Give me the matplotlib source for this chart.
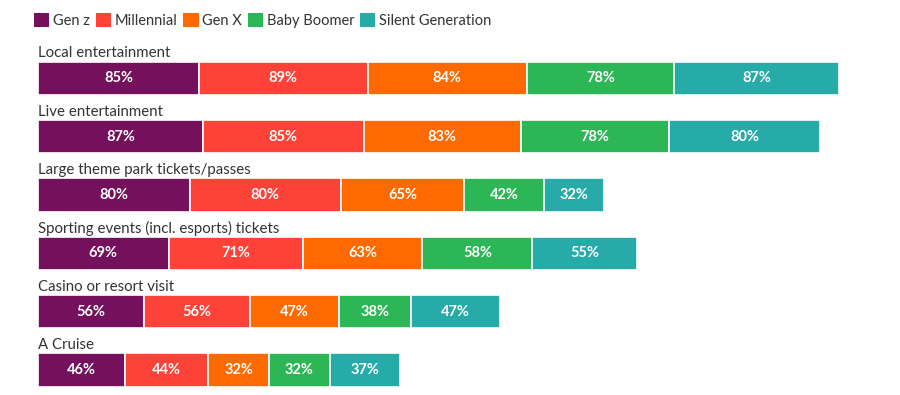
import numpy as np
import matplotlib.pyplot as plt
from matplotlib.patches import Patch

plt.rcParams['font.family'] = ['Lato', 'DejaVu Sans']

categories = ['Local entertainment', 'Live entertainment', 'Large theme park tickets/passes',
              'Sporting events (incl. esports) tickets', 'Casino or resort visit', 'A Cruise']
generations = ['Gen z', 'Millennial', 'Gen X', 'Baby Boomer', 'Silent Generation']
colors = ['#74105C', '#FF4238', '#FF6A00', '#2DB655', '#27ABA9']

gen_z = [85, 87, 80, 69, 56, 46]
millennial = [89, 85, 80, 71, 56, 44]
gen_x = [84, 83, 65, 63, 47, 32]
boomer = [78, 78, 42, 58, 38, 32]
silent = [87, 80, 32, 55, 47, 37]
series = [gen_z, millennial, gen_x, boomer, silent]

fig = plt.figure(figsize=(9, 3.95), dpi=100)
ax = fig.add_axes([0, 0, 1, 1])
scale = 1.894  # px per percentage point
ax.set_xlim(-38 / scale, (900 - 38) / scale)
ax.set_ylim(5.43, -1.346)
ax.axis('off')

y = np.arange(len(categories))
left = np.zeros(len(categories))
for vals, col in zip(series, colors):
    vals = np.array(vals)
    ax.barh(y, vals, left=left, height=0.57, color=col, edgecolor='white', linewidth=1.2)
    for yi, l, v in zip(y, left, vals):
        ax.text(l + v / 2, yi, f'{v}%', ha='center', va='center', color='white',
                fontsize=10.5, fontweight='bold')
    left += vals

for yi, cat in zip(y, categories):
    ax.text(0, yi - 0.43, cat, ha='left', va='center', fontsize=10.8, color='#333333')

handles = [Patch(facecolor=c, edgecolor='none') for c in colors]
ax.legend(handles, generations, ncol=5, loc='upper left', bbox_to_anchor=(34 / 900, 1 - 13 / 395),
          frameon=False, handlelength=1.05, handleheight=1.05, handletextpad=0.25,
          columnspacing=0.4, fontsize=10.5, borderaxespad=0, borderpad=0)
for t in ax.get_legend().get_texts():
    t.set_color('#333333')

fig.savefig('out.png', dpi=100)
